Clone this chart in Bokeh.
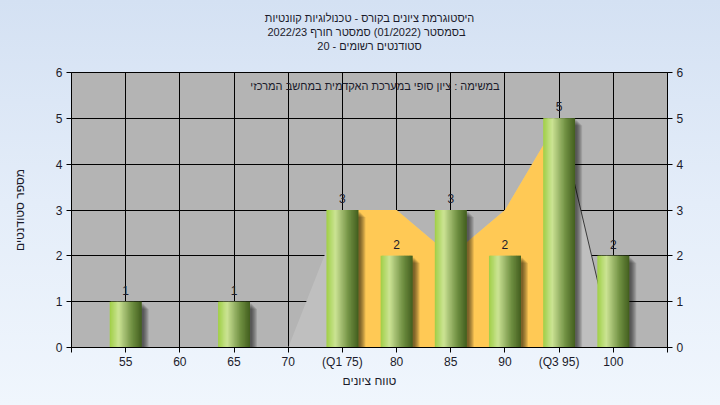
from bokeh.plotting import figure
from bokeh.models import FixedTicker, LinearAxis, Range1d, Label, Title
from bokeh.embed import file_html
from bokeh.resources import INLINE

# ---------------- data ----------------
categories = ["55", "60", "65", "70", "(Q1 75)", "80", "85", "90", "(Q3 95)", "100"]
counts = [1, 0, 1, 0, 3, 2, 3, 2, 5, 2]
spread = [0, 0, 0, 0, 3, 3, 2, 3, 5, 0]      # light grey background area
q1_index, q3_index = 4, 8                    # inter-quartile (orange) part
y_ticks = [0, 1, 2, 3, 4, 5, 6]

title_lines = [
    "היסטוגרמת ציונים בקורס - טכנולוגיות קוונטיות",
    "בסמסטר  (01/2022)  סמסטר חורף 2022/23",
    "סטודנטים רשומים - 20",
]
note_text = "במשימה : ציון סופי במערכת האקדמית במחשב המרכזי"
x_title = "טווח ציונים"
y_title = "מספר סטודנטים"

# ---------------- layout ----------------
W, H = 720, 405
ML, MR, MT, MB = 71, 53, 72, 58
FONT = "Liberation Sans"
FS = "12px"
FS_H = "11px"
TXT = "#1b1b2b"

idx = list(range(len(categories)))
x_start, x_end = -1, len(categories)
y_start, y_end = 0, 6
px_x = (x_end - x_start) / (W - ML - MR)
px_y = (y_end - y_start) / (H - MT - MB)

p = figure(width=W, height=H, output_backend="svg", toolbar_location=None,
           x_range=Range1d(x_start, x_end), y_range=Range1d(y_start, y_end),
           min_border_left=ML, min_border_right=MR, min_border_top=MT,
           min_border_bottom=MB, title=None)
p.background_fill_color = "#b4b4b4"
p.border_fill_color = "#e3ecf8"
p.border_fill_alpha = 0.0
p.styles = {"background": "linear-gradient(to bottom, #d4e1f3 0%, #e4edf9 50%, #f0f6fd 100%)"}
p.outline_line_color = "black"

# spacer between the frame and the title block
p.add_layout(Title(text=" ", text_font_size="1px", standoff=18), "above")
# title lines: the bottom line is added first, each next one stacks above
for line in reversed(title_lines):
    p.add_layout(Title(text=line, align="center", text_font=FONT,
                       text_font_size=FS_H, text_font_style="normal",
                       text_line_height=0.88, text_color=TXT, offset=-9,
                       standoff=0), "above")

# grids
p.xgrid.ticker = FixedTicker(ticks=list(range(x_start, x_end + 1)))
p.ygrid.ticker = FixedTicker(ticks=y_ticks)
for g in (p.xgrid, p.ygrid):
    g.grid_line_color = "black"
    g.grid_line_width = 1

# areas
p.varea(x=idx, y1=[0] * len(idx), y2=spread, fill_color="#bfbfbf")
sl = slice(q1_index, q3_index + 1)
p.varea(x=idx[sl], y1=[0] * len(idx[sl]), y2=spread[sl], fill_color="#ffc955")
p.line(x=idx[q3_index:q3_index + 2], y=spread[q3_index:q3_index + 2],
       line_color="#3a3a3a", line_width=1)

# bars: shadow + cylinder-like gradient
bw = 0.59
lefts = [i - bw / 2 for i in idx]
rights = [i + bw / 2 for i in idx]
for d in range(2, 8):
    p.quad(left=[l + d * px_x for l in lefts], right=[r + d * px_x for r in rights],
           top=[c - d * px_y if c > 0 else 0 for c in counts], bottom=[0] * len(idx),
           fill_color="black", fill_alpha=0.11, line_color=None)

stops = [(0.0, (160, 206, 70)), (0.12, (178, 216, 104)), (0.28, (204, 228, 148)),
         (0.45, (166, 192, 116)), (0.7, (112, 144, 66)), (1.0, (66, 94, 30))]


def grad(t):
    for (t0, c0), (t1, c1) in zip(stops[:-1], stops[1:]):
        if t <= t1:
            f = (t - t0) / (t1 - t0)
            return "#%02x%02x%02x" % tuple(int(round(a + (b - a) * f)) for a, b in zip(c0, c1))
    return "#%02x%02x%02x" % stops[-1][1]


N = 26
for k in range(N):
    t = (k + 0.5) / N
    extra = px_x if k < N - 1 else 0
    p.quad(left=[l + bw * k / N for l in lefts],
           right=[l + bw * (k + 1) / N + extra for l in lefts],
           top=counts, bottom=[0] * len(idx),
           fill_color=grad(t), line_color=None)

# value labels
lab_x = [i for i, c in zip(idx, counts) if c > 0]
lab_y = [c for c in counts if c > 0]
p.text(x=lab_x, y=lab_y, text=[str(c) for c in lab_y], text_align="center",
       text_baseline="bottom", y_offset=-7, text_font_size=FS,
       text_font={"value": FONT}, text_color=TXT)

# note inside plot
p.add_layout(Label(x=(x_start + x_end) / 2 + 0.1, y=y_end, y_offset=-13, text=note_text,
                   text_align="center", text_baseline="middle", text_font=FONT,
                   text_font_size=FS_H, text_color=TXT))

# axes
p.xaxis.ticker = FixedTicker(ticks=list(range(x_start, x_end + 1)))
ov = {i: c for i, c in zip(idx, categories)}
ov[x_start] = ""
ov[x_end] = ""
p.xaxis.major_label_overrides = ov
p.yaxis.ticker = FixedTicker(ticks=y_ticks)

right = LinearAxis(y_range_name="default", ticker=FixedTicker(ticks=y_ticks))
p.add_layout(right, "right")

for ax in p.axis:
    ax.axis_line_color = "black"
    ax.major_tick_line_color = "black"
    ax.major_tick_out = 5
    ax.major_tick_in = 0
    ax.minor_tick_line_color = None
    ax.major_label_text_font = FONT
    ax.major_label_text_font_size = FS
    ax.major_label_text_color = TXT
    ax.major_label_standoff = 4
    ax.axis_label_text_font = FONT
    ax.axis_label_text_font_size = FS
    ax.axis_label_text_font_style = "normal"
    ax.axis_label_text_color = TXT

p.xaxis.axis_label = x_title
p.xaxis.axis_label_standoff = 2
p.xaxis.major_label_standoff = 2
p.yaxis[0].axis_label = y_title
p.yaxis[0].axis_label_standoff = 26

open("out.html", "w").write(file_html(p, INLINE))
